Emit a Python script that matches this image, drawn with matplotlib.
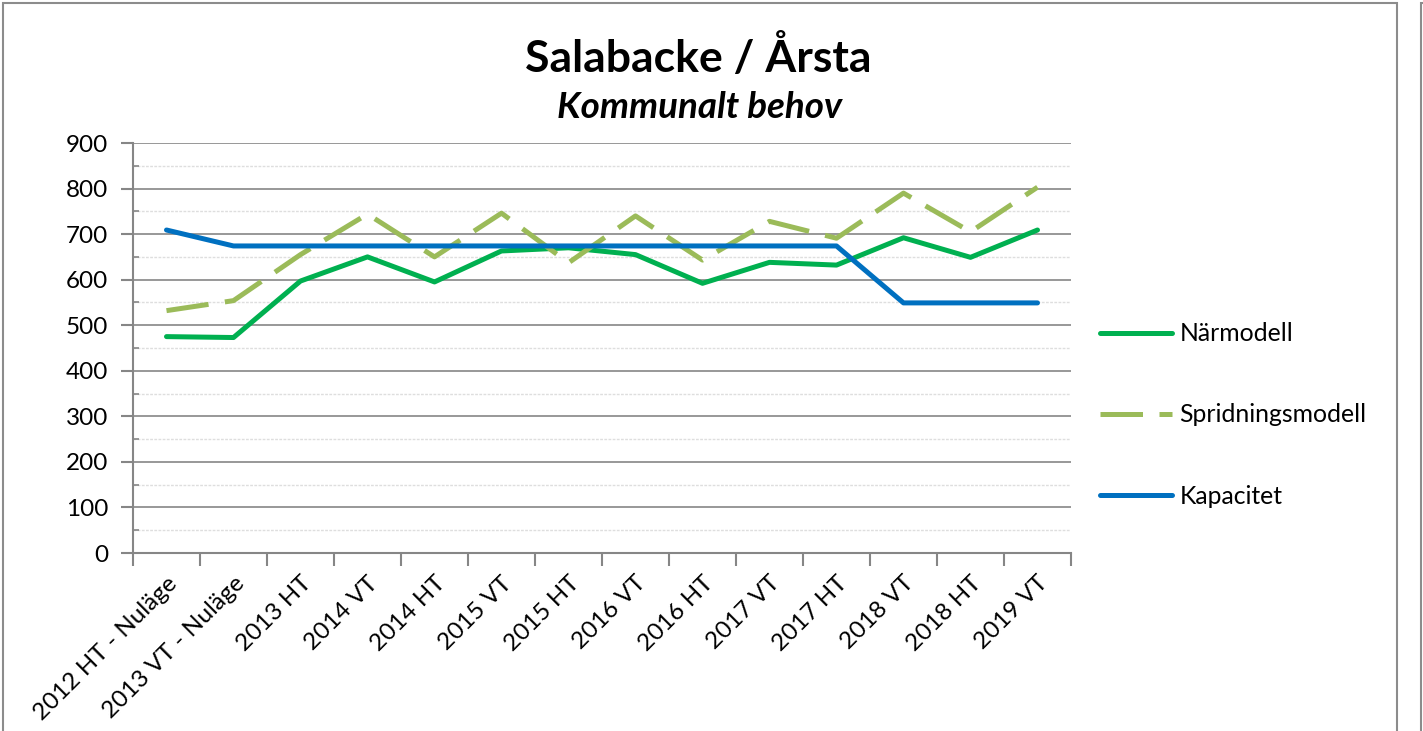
import matplotlib
matplotlib.use("Agg")
import matplotlib.pyplot as plt
from matplotlib.ticker import MultipleLocator
from matplotlib.patches import Rectangle

categories = ["2012 HT - Nuläge", "2013 VT - Nuläge", "2013 HT", "2014 VT", "2014 HT",
              "2015 VT", "2015 HT", "2016 VT", "2016 HT", "2017 VT", "2017 HT",
              "2018 VT", "2018 HT", "2019 VT"]
narmodell = [475, 473, 597, 650, 595, 663, 670, 655, 592, 638, 632, 692, 649, 709]
spridningsmodell = [532, 554, 655, 744, 650, 746, 637, 740, 643, 728, 691, 790, 705, 803]
kapacitet = [709, 674, 674, 674, 674, 674, 674, 674, 674, 674, 674, 549, 549, 549]
series_names = ["Närmodell", "Spridningsmodell", "Kapacitet"]
yticks = [0, 100, 200, 300, 400, 500, 600, 700, 800, 900]

FONT = ["Lato", "DejaVu Sans"]
plt.rcParams['font.family'] = FONT

W, H = 1423, 731
fig = plt.figure(figsize=(W / 100, H / 100), dpi=100)

# chart frame
fig.patches.append(Rectangle((3 / W, -0.01), (1397 - 3) / W, (H - 3) / H + 0.01,
                             transform=fig.transFigure, fill=False,
                             edgecolor="#8c8c8c", linewidth=1.5))
fig.patches.append(Rectangle((1421 / W, -0.01), 0.01, (H - 3) / H + 0.01,
                             transform=fig.transFigure, fill=False,
                             edgecolor="#8c8c8c", linewidth=1.5))

ax = fig.add_axes([133 / W, (H - 553) / H, (1071 - 133) / W, (553 - 143) / H])

x = list(range(len(categories)))
l1, = ax.plot(x, narmodell, color="#00B050", linewidth=3.6, solid_capstyle="round",
              label=series_names[0])
l2, = ax.plot(x, spridningsmodell, color="#9BBB59", linewidth=3.6,
              dashes=(8.5, 3.3), label=series_names[1])
l3, = ax.plot(x, kapacitet, color="#0070C0", linewidth=3.6, solid_capstyle="round",
              label=series_names[2])

ax.set_xlim(-0.5, len(categories) - 0.5)
ax.set_ylim(0, 900)
ax.set_yticks(yticks)
ax.yaxis.set_minor_locator(MultipleLocator(50))
ax.grid(True, which="major", axis="y", color="#868686", linewidth=1.2)
ax.grid(True, which="minor", axis="y", color="#dedede", linewidth=1.0, linestyle=(0, (2, 1)))
ax.set_axisbelow(True)

ax.set_xticks([i - 0.5 for i in range(len(categories) + 1)])
ax.set_xticklabels([])
ax.set_xticks(x, minor=True)
ax.set_xticklabels(categories, minor=True, rotation=45, ha="right",
                   rotation_mode="anchor", fontsize=17.5)
ax.tick_params(axis="x", which="minor", length=0, pad=14)
ax.tick_params(axis="x", which="major", length=9, width=1.5, color="#868686", direction="out")
ax.tick_params(axis="y", which="major", length=9, width=1.5, color="#868686",
               direction="out", labelsize=17.5, pad=9)
ax.tick_params(axis="y", which="minor", length=4, width=1.2, color="#868686", direction="in")

for s in ["top", "right"]:
    ax.spines[s].set_visible(False)
for s in ["left", "bottom"]:
    ax.spines[s].set_color("#868686")
    ax.spines[s].set_linewidth(1.5)

fig.text(698 / W, 1 - 57 / H, "Salabacke / Årsta", ha="center", va="center",
         fontsize=32, fontweight="bold")
fig.text(700 / W, 1 - 107 / H, "Kommunalt behov", ha="center", va="center",
         fontsize=26.5, fontweight="bold", fontstyle="italic")

fig.legend(handles=[l1, l2, l3], loc="center left",
           bbox_to_anchor=(1078 / W, 1 - 415 / H), frameon=False,
           fontsize=17.8, handlelength=2.9, handletextpad=0.3, labelspacing=2.35)

fig.savefig("out.png", dpi=100)
